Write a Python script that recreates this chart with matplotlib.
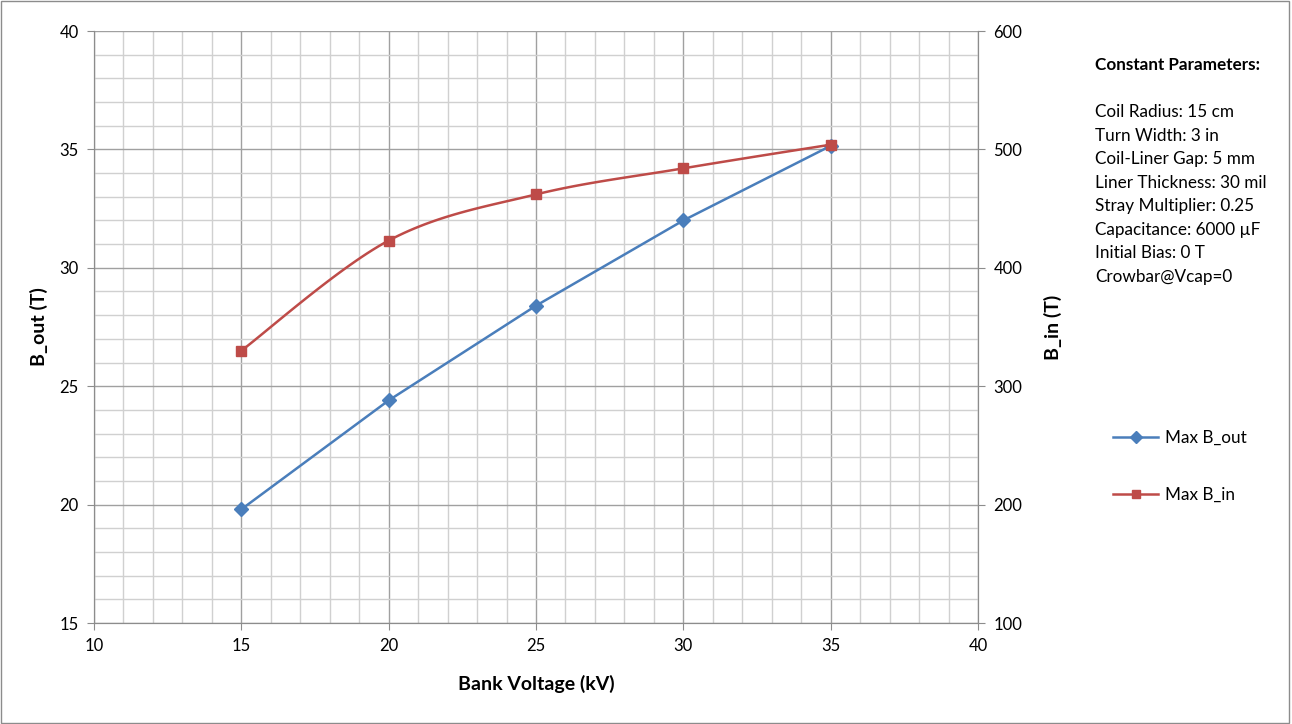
import matplotlib.pyplot as plt
import numpy as np

plt.rcParams['font.family'] = ['Lato', 'DejaVu Sans']

voltage = [15, 20, 25, 30, 35]
b_out = [19.8, 24.4, 28.4, 32.0, 35.15]
b_in = [330, 423, 462, 484, 504]

params = ["Coil Radius: 15 cm", "Turn Width: 3 in", "Coil-Liner Gap: 5 mm",
          "Liner Thickness: 30 mil", "Stray Multiplier: 0.25",
          "Capacitance: 6000 µF", "Initial Bias: 0 T", "Crowbar@Vcap=0"]

blue = '#4a7ebb'
red = '#be4b48'


def smooth(x, y, n=30):
    # excel-style smoothed line (catmull-rom / bezier)
    x = np.asarray(x, float)
    y = np.asarray(y, float)
    px = np.concatenate([[x[0]], x, [x[-1]]])
    py = np.concatenate([[y[0]], y, [y[-1]]])
    xs, ys = [], []
    t = np.linspace(0, 1, n)
    for i in range(1, len(px) - 2):
        p0 = np.array([px[i], py[i]])
        p3 = np.array([px[i + 1], py[i + 1]])
        p1 = p0 + (np.array([px[i + 1], py[i + 1]]) - np.array([px[i - 1], py[i - 1]])) / 6
        p2 = p3 - (np.array([px[i + 2], py[i + 2]]) - np.array([px[i], py[i]])) / 6
        b = ((1 - t) ** 3)[:, None] * p0 + (3 * (1 - t) ** 2 * t)[:, None] * p1 \
            + (3 * (1 - t) * t ** 2)[:, None] * p2 + (t ** 3)[:, None] * p3
        xs.extend(b[:, 0])
        ys.extend(b[:, 1])
    return xs, ys


fig = plt.figure(figsize=(12.92, 7.24), dpi=100)
ax = fig.add_axes([94 / 1292, 1 - 623 / 724, (978 - 94) / 1292, (623 - 31) / 724])
ax2 = ax.twinx()

ax.set_xlim(10, 40)
ax.set_ylim(15, 40)
ax2.set_ylim(100, 600)
ax.set_xticks(np.arange(10, 41, 5))
ax.set_xticks(np.arange(10, 41, 1), minor=True)
ax.set_yticks(np.arange(15, 41, 5))
ax.set_yticks(np.arange(15, 41, 1), minor=True)
ax2.set_yticks(np.arange(100, 601, 100))

ax.grid(which='minor', color='#d0d0d0', lw=1.0)
ax.grid(which='major', color='#a0a0a0', lw=1.0)
ax.set_axisbelow(True)

for a in (ax, ax2):
    for s in a.spines.values():
        s.set_color('#8c8c8c')
    a.spines['top'].set_visible(False)
    a.tick_params(which='major', length=5, color='#8c8c8c', labelsize=12, pad=6)
    a.tick_params(which='minor', length=0)

l1, = ax.plot(voltage, b_out, color=blue, lw=1.8, marker='D', ms=7, label='Max B_out')
sx, sy = smooth(voltage, b_in)
ax2.plot(sx, sy, color=red, lw=1.8)
ax2.plot(voltage, b_in, ls='none', color=red, marker='s', ms=7)
l2, = ax2.plot([], [], color=red, lw=1.8, marker='s', ms=7, label='Max B_in')

ax.set_xlabel('Bank Voltage (kV)', fontsize=14, fontweight='bold', labelpad=15)
ax.set_ylabel('B_out (T)', fontsize=14, fontweight='bold', labelpad=8)
ax2.set_ylabel('B_in (T)', fontsize=14, fontweight='bold', labelpad=16)

fig.text(1095 / 1292, 1 - 65 / 724, 'Constant Parameters:', fontsize=12.3,
         fontweight='bold', va='center')
fig.text(1095 / 1292, 1 - 104 / 724, '\n'.join(params), fontsize=12.3,
         va='top', linespacing=1.58)

leg = fig.legend(handles=[l1, l2], loc='center left', bbox_to_anchor=(1098 / 1292, 1 - 466 / 724),
                 frameon=False, fontsize=12.3, labelspacing=2.4, handlelength=2.6,
                 handletextpad=0.4, markerscale=0.85)

fig.patches.append(plt.Rectangle((0.001, 0.001), 0.997, 0.997, transform=fig.transFigure,
                                 fill=False, edgecolor='#8c8c8c', lw=1))

fig.savefig('out.png', dpi=100)
